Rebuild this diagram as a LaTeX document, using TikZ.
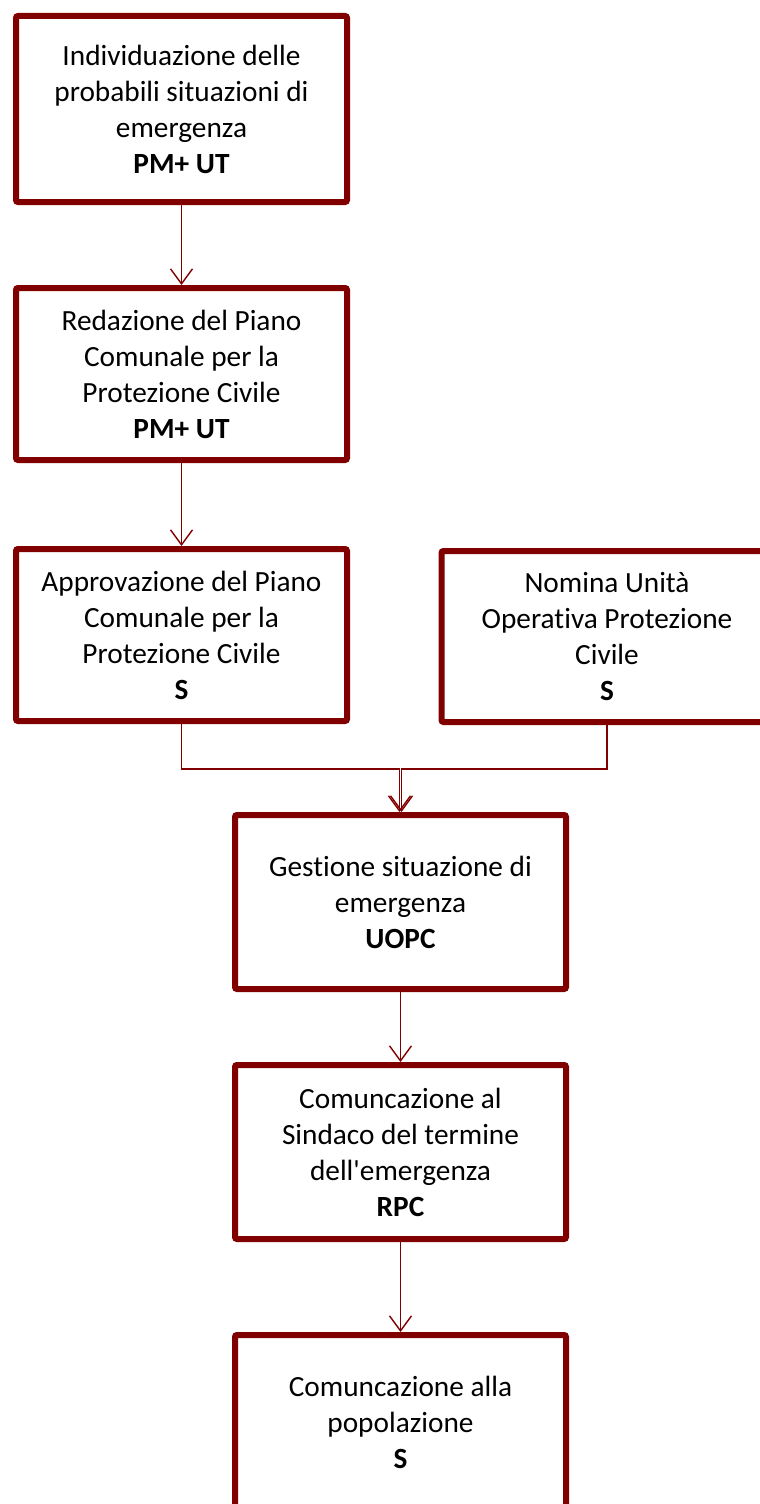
\documentclass[tikz,border=0pt]{standalone}
\usepackage{fontspec}
\newfontfamily\boxfont{Carlito}[Ligatures=NoCommon]
\usetikzlibrary{positioning, arrows.meta, calc}
\definecolor{boxred}{RGB}{128,0,0}

\begin{document}
\begin{tikzpicture}[
    x=1pt, y=-1pt,
    % Node styles
    stepbox/.style={
        draw=boxred, line width=6pt, rounded corners=2pt, fill=white,
        minimum width=331pt, minimum height=172pt,
        font=\boxfont\fontsize{29.3}{36}\selectfont, align=center, inner sep=2pt
    },
    % Arrow styles
    link/.style={draw=boxred, line width=1.4pt},
    arrow/.style={link, -{Straight Barb[length=15pt, width=22pt, line width=1.4pt]}},
]
\useasboundingbox (0,0) rectangle (760,1504);

% ============================================================
% LAYOUT: one column, with a side box on the third row
% ============================================================

% --- Left column ---
\node[stepbox, minimum height=186pt] (indiv) at (181.5, 109) {
    Individuazione delle\\
    probabili situazioni di\\
    emergenza\\
    \textbf{PM+ UT}
};

\node[stepbox] (redaz) at (181.5, 374) {
    Redazione del Piano\\
    Comunale per la\\
    Protezione Civile\\
    \textbf{PM+ UT}
};

\node[stepbox] (approv) at (181.5, 635) {
    Approvazione del Piano\\
    Comunale per la\\
    Protezione Civile\\
    \textbf{S}
};

% --- Side box ---
\node[stepbox, minimum height=171pt] (nomina) at (607, 636.5) {
    Nomina Unità\\
    Operativa Protezione\\
    Civile\\
    \textbf{S}
};

% --- Centre column ---
\node[stepbox, minimum height=174pt] (gest) at (400.5, 902) {
    Gestione situazione di\\
    emergenza\\
    \textbf{UOPC}
};

\node[stepbox, minimum height=174pt] (termine) at (400.5, 1152) {
    Comuncazione al\\
    Sindaco del termine\\
    dell'emergenza\\
    \textbf{RPC}
};

\node[stepbox, minimum height=174pt] (popol) at (400.5, 1422) {
    Comuncazione alla\\
    popolazione\\
    \textbf{S}
};

% ============================================================
% ARROWS
% ============================================================
\coordinate (joinL) at (399.5, 769);
\coordinate (joinR) at (401.5, 769);

\draw[arrow] (indiv.south) -- (redaz.north);
\draw[arrow] (redaz.south) -- (approv.north);

% 1. both third-row boxes join above Gestione
\draw[arrow] (approv.south) |- (joinL) -- (joinL |- gest.north);
\draw[arrow] (nomina.south) |- (joinR) -- (joinR |- gest.north);

\draw[arrow] (gest.south) -- (termine.north);
\draw[arrow] (termine.south) -- (popol.north);

\end{tikzpicture}
\end{document}
